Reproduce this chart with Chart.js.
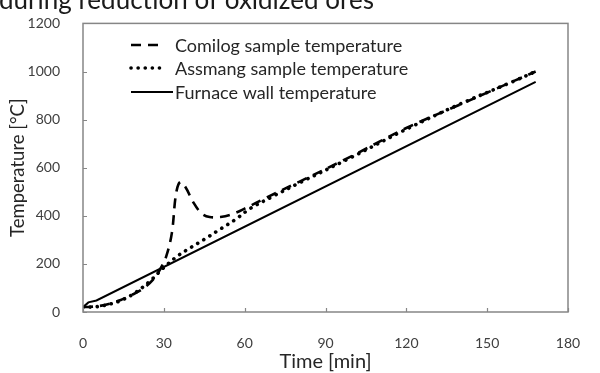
<!DOCTYPE html>
<html>
<head>
<meta charset="utf-8">
<script src="https://cdn.jsdelivr.net/npm/chart.js@4.4.1/dist/chart.umd.min.js"></script>
<style>
  html, body { margin: 0; padding: 0; background: #fff; }
  #wrap { width: 600px; height: 373px; position: relative; }
</style>
</head>
<body>
<div id="wrap"><canvas id="c"></canvas></div>
<script>
// Reduction run: sample and furnace wall temperatures versus time
const comilogTime = [0, 3, 6, 10, 14, 18, 22, 26, 29, 31, 33, 34.5, 36, 38, 41, 44, 47, 51, 55, 60, 68, 80, 100, 120, 140, 160, 168];
const comilogTemp = [20, 22, 25, 35, 50, 70, 95, 135, 185, 235, 330, 490, 540, 520, 455, 410, 395, 395, 405, 430, 475, 540, 650, 765, 863, 961, 1000];

const assmangTime = [0, 5, 10, 15, 20, 25, 30, 35, 40, 45, 51, 57, 62, 70, 80, 100, 120, 140, 160, 168];
const assmangTemp = [20, 22, 33, 52, 85, 130, 185, 232, 268, 302, 345, 388, 430, 478, 535, 645, 760, 865, 960, 1000];

const furnaceTime = [0, 2, 5, 168];
const furnaceTemp = [20, 40, 48, 957];

const xTicks = [0, 30, 60, 90, 120, 150, 180];
const yTicks = [0, 200, 400, 600, 800, 1000, 1200];

const seriesNames = ['Comilog sample temperature', 'Assmang sample temperature', 'Furnace wall temperature'];
const headingText = 'during reduction of oxidized ores';

const FONT = 'Lato, "Open Sans", sans-serif';
const pts = (xs, ys) => xs.map((x, i) => ({ x: x, y: ys[i] }));

// Frame, inward tick marks, in-plot legend and the heading line
const decor = {
  id: 'decor',
  afterDraw(chart) {
    const { ctx, chartArea: a, scales: { x, y } } = chart;
    ctx.save();
    ctx.strokeStyle = '#868686';
    ctx.lineWidth = 1.5;
    ctx.strokeRect(a.left, a.top, a.right - a.left, a.bottom - a.top);
    ctx.lineWidth = 1.2;
    ctx.beginPath();
    xTicks.forEach(v => {
      const px = Math.round(x.getPixelForValue(v)) + 0.5;
      ctx.moveTo(px, a.bottom); ctx.lineTo(px, a.bottom - 4);
    });
    yTicks.forEach(v => {
      const py = Math.round(y.getPixelForValue(v)) + 0.5;
      ctx.moveTo(a.left, py); ctx.lineTo(a.left + 4, py);
    });
    ctx.stroke();

    // legend
    const rows = [45, 68, 92];
    chart.data.datasets.forEach((ds, i) => {
      const yy = rows[i];
      ctx.strokeStyle = ds.borderColor;
      ctx.lineWidth = ds.borderWidth;
      ctx.lineCap = ds.borderCapStyle || 'butt';
      ctx.setLineDash(ds.borderDash || []);
      ctx.beginPath();
      ctx.moveTo(131, yy); ctx.lineTo(i === 2 ? 173 : 163, yy);
      ctx.stroke();
      ctx.setLineDash([]);
      ctx.fillStyle = '#262626';
      ctx.font = '18px ' + FONT;
      ctx.textAlign = 'left';
      ctx.textBaseline = 'middle';
      ctx.fillText(ds.label, 175, yy + 1);
    });

    // heading line (its upper part lies above the canvas)
    ctx.fillStyle = '#1a1a1a';
    ctx.font = '26px ' + FONT;
    ctx.textAlign = 'left';
    ctx.textBaseline = 'alphabetic';
    ctx.fillText(headingText, -1, 9);
    ctx.restore();
  }
};

new Chart(document.getElementById('c'), {
  type: 'line',
  data: {
    datasets: [
      {
        label: seriesNames[0],
        data: pts(comilogTime, comilogTemp),
        borderColor: '#000', borderWidth: 2.6, borderDash: [10, 7],
        pointRadius: 0, tension: 0.35, fill: false
      },
      {
        label: seriesNames[1],
        data: pts(assmangTime, assmangTemp),
        borderColor: '#000', borderWidth: 3.6, borderDash: [0.1, 7], borderCapStyle: 'round',
        pointRadius: 0, tension: 0.35, fill: false
      },
      {
        label: seriesNames[2],
        data: pts(furnaceTime, furnaceTemp),
        borderColor: '#000', borderWidth: 2, borderDash: [],
        pointRadius: 0, tension: 0, fill: false
      }
    ]
  },
  options: {
    responsive: true,
    maintainAspectRatio: false,
    animation: false,
    layout: { padding: { top: 21, right: 32, left: 0, bottom: 0 } },
    plugins: { legend: { display: false }, tooltip: { enabled: false } },
    scales: {
      x: {
        type: 'linear', min: 0, max: 180,
        afterBuildTicks: s => { s.ticks = xTicks.map(v => ({ value: v })); },
        afterFit: s => { s.height = 61; },
        grid: { display: false },
        border: { display: false },
        ticks: { color: '#404040', font: { family: FONT, size: 14 }, padding: 15, maxRotation: 0,
                 callback: v => String(v) },
        title: { display: true, text: 'Time [min]', color: '#262626',
                 font: { family: FONT, size: 20, lineHeight: 1 }, padding: { top: 0, bottom: 1 } }
      },
      y: {
        type: 'linear', min: 0, max: 1200,
        afterBuildTicks: s => { s.ticks = yTicks.map(v => ({ value: v })); },
        afterFit: s => { s.width = 83; },
        grid: { display: false },
        border: { display: false },
        ticks: { color: '#404040', font: { family: FONT, size: 14 }, padding: 15,
                 callback: v => String(v) },
        title: { display: true, text: 'Temperature [°C]', color: '#262626',
                 font: { family: FONT, size: 18.5, lineHeight: 1 }, padding: { top: 9, bottom: 0 } }
      }
    }
  },
  plugins: [decor]
});
</script>
</body>
</html>
